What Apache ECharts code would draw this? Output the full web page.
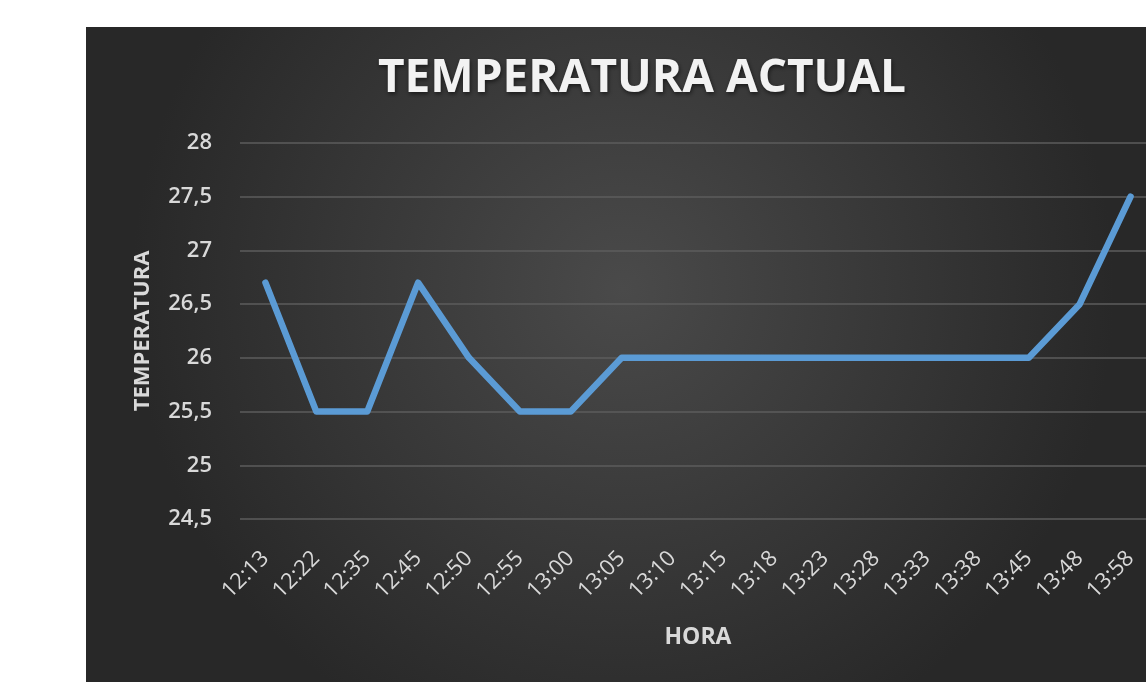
<!DOCTYPE html>
<html>
<head>
<meta charset="utf-8">
<script src="https://cdn.jsdelivr.net/npm/echarts@6/dist/echarts.min.js"></script>
<style>
  html, body { margin: 0; padding: 0; background: #fff; overflow: hidden; }
  #chart { width: 1160px; height: 682px; }
</style>
</head>
<body>
<div id="chart"></div>
<script>
var horas = ['12:13', '12:22', '12:35', '12:45', '12:50', '12:55', '13:00', '13:05', '13:10',
    '13:15', '13:18', '13:23', '13:28', '13:33', '13:38', '13:45', '13:48', '13:58'];
var temperatura = [26.7, 25.5, 25.5, 26.7, 26.0, 25.5, 25.5, 26, 26,
    26, 26, 26, 26, 26, 26, 26, 26.5, 27.5];

var labelFont = '"Open Sans", "DejaVu Sans", sans-serif';

function set_chart() {
    var dom = document.getElementById('chart');
    var myChart = echarts.init(dom);
    var option = {
        backgroundColor: '#ffffff',
        animation: false,
        graphic: [{
            type: 'rect',
            z: -10,
            silent: true,
            shape: { x: 86, y: 27, width: 1074, height: 655 },
            style: {
                fill: new echarts.graphic.RadialGradient(0.5, 0.4, 0.75, [
                    { offset: 0, color: '#4a4a4a' },
                    { offset: 1, color: '#282828' }
                ])
            }
        }],
        title: {
            text: 'TEMPERATURA ACTUAL',
            left: 637,
            textAlign: 'center',
            top: 51,
            textStyle: {
                color: '#f2f2f2',
                fontSize: 46,
                fontWeight: 'bold',
                fontFamily: labelFont,
                textShadowColor: 'rgba(0,0,0,0.55)',
                textShadowBlur: 4,
                textShadowOffsetX: 1,
                textShadowOffsetY: 2
            }
        },
        grid: {
            left: 240,
            right: 4,
            top: 143,
            bottom: 682 - 519
        },
        xAxis: {
            type: 'category',
            data: horas,
            name: 'HORA',
            nameLocation: 'middle',
            nameGap: 107,
            nameTextStyle: {
                color: '#d9d9d9',
                fontSize: 23,
                fontWeight: 'bold',
                fontFamily: labelFont
            },
            axisLine: { show: false },
            axisTick: { show: false },
            axisLabel: {
                interval: 0,
                rotate: 45,
                margin: 36,
                color: '#d9d9d9',
                fontSize: 22,
                fontFamily: labelFont
            }
        },
        yAxis: {
            type: 'value',
            min: 24.5,
            max: 28,
            interval: 0.5,
            name: 'TEMPERATURA',
            nameLocation: 'middle',
            nameRotate: 90,
            nameGap: 86,
            nameTextStyle: {
                color: '#d9d9d9',
                fontSize: 22,
                fontWeight: 'bold',
                fontFamily: labelFont
            },
            axisLine: { show: false },
            axisTick: { show: false },
            axisLabel: {
                margin: 28,
                color: '#d9d9d9',
                fontSize: 22,
                fontWeight: 600,
                fontFamily: labelFont,
                formatter: function (v) { return String(v).replace('.', ','); }
            },
            splitLine: {
                lineStyle: { color: '#5c5c5c', width: 1.5 }
            }
        },
        series: [{
            type: 'line',
            data: temperatura,
            symbol: 'none',
            lineStyle: {
                color: '#5b9bd5',
                width: 6.5,
                cap: 'round',
                join: 'round'
            }
        }]
    };
    myChart.setOption(option, true);
}
window.onload = function () {
    set_chart();
};
</script>
</body>
</html>
